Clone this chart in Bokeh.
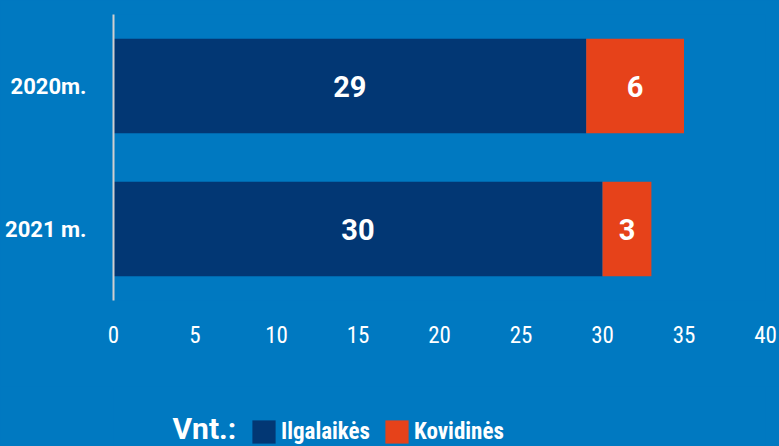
from bokeh.plotting import figure
from bokeh.layouts import column
from bokeh.models import (ColumnDataSource, FactorRange, Range1d, Legend, LegendItem,
                          LabelSet, Label, FixedTicker)
from bokeh.core.properties import value
from bokeh.embed import file_html
from bokeh.resources import INLINE

years = ["2020m.", "2021 m."]
ilgalaikes = [29, 30]
kovidines = [6, 3]
x_ticks = [0, 5, 10, 15, 20, 25, 30, 35, 40]
series_names = ["Ilgalaikės", "Kovidinės"]
legend_title = "Vnt.:"

BG = "#0079C1"
DARK = "#023774"
ORANGE = "#E6421A"
NARROW = "'Roboto Condensed', 'Liberation Sans Narrow', 'DejaVu Sans Condensed', sans-serif"
BGSTYLE = {"background-color": BG}
LEFT, RIGHT = 113, 14

factors = list(reversed(years))
src = ColumnDataSource(dict(
    year=years,
    a=ilgalaikes,
    b=kovidines,
    a_end=ilgalaikes,
    b_start=ilgalaikes,
    b_end=[i + k for i, k in zip(ilgalaikes, kovidines)],
    a_mid=[i / 2 for i in ilgalaikes],
    b_mid=[i + k / 2 for i, k in zip(ilgalaikes, kovidines)],
    zero=[0] * len(years),
))

p = figure(width=779, height=386, output_backend="svg", toolbar_location=None,
           y_range=FactorRange(factors=factors, range_padding=0),
           x_range=Range1d(0, 40),
           min_border_left=LEFT, min_border_right=RIGHT, min_border_top=14, min_border_bottom=86,
           styles=BGSTYLE)
p.background_fill_color = BG
p.border_fill_color = BG
p.outline_line_color = None
p.xgrid.visible = False
p.ygrid.visible = False

p.hbar(y="year", left="zero", right="a_end", height=0.66, source=src,
       fill_color=DARK, line_color=None)
p.hbar(y="year", left="b_start", right="b_end", height=0.66, source=src,
       fill_color=ORANGE, line_color=None)

for xcol, tcol in (("a_mid", "a"), ("b_mid", "b")):
    p.add_layout(LabelSet(x=xcol, y="year", text=tcol, source=src, text_align="center",
                          text_baseline="middle", text_color="white", text_font=value("Roboto"),
                          text_font_style="bold", text_font_size="29px"))

p.xaxis.ticker = FixedTicker(ticks=x_ticks)
p.xaxis.axis_line_color = None
p.xaxis.major_tick_line_color = None
p.xaxis.minor_tick_line_color = None
p.xaxis.major_label_text_color = "white"
p.xaxis.major_label_text_font = NARROW
p.xaxis.major_label_text_font_style = "normal"
p.xaxis.major_label_text_font_size = "23px"
p.xaxis.major_label_standoff = 19

p.yaxis.axis_line_color = "#D0D0D0"
p.yaxis.axis_line_width = 2
p.yaxis.major_tick_line_color = None
p.yaxis.minor_tick_line_color = None
p.yaxis.major_label_text_color = "white"
p.yaxis.major_label_text_font = "Roboto"
p.yaxis.major_label_text_font_style = "bold"
p.yaxis.major_label_text_font_size = "22px"
p.yaxis.major_label_standoff = 21

# legend strip (its swatch renderers sit outside the strip's ranges, so only the legend shows)
lf = figure(width=779, height=60, output_backend="svg", toolbar_location=None,
            x_range=Range1d(0, 1), y_range=Range1d(0, 1),
            min_border_left=LEFT, min_border_right=RIGHT, min_border_top=0, min_border_bottom=0,
            styles=BGSTYLE)
lf.background_fill_color = BG
lf.border_fill_color = BG
lf.outline_line_color = None
lf.axis.visible = False
lf.grid.visible = False
g1 = lf.quad(left="zero", right="a_end", bottom="a", top="a_end", source=src,
             fill_color=DARK, line_color=None)
g2 = lf.quad(left="b_start", right="b_end", bottom="b_end", top="b_end", source=src,
             fill_color=ORANGE, line_color=None)

legend = Legend(items=[LegendItem(label=series_names[0], renderers=[g1]),
                       LegendItem(label=series_names[1], renderers=[g2])],
                orientation="horizontal", location=(249 - LEFT, 0),
                label_text_color="white", label_text_font=NARROW,
                label_text_font_style="bold", label_text_font_size="23px",
                glyph_width=29, glyph_height=29, spacing=12, label_standoff=3,
                padding=0, margin=0,
                background_fill_alpha=0, border_line_color=None)
lf.add_layout(legend, "center")

lf.add_layout(Label(x=172 - LEFT, y=18, x_units="screen", y_units="screen", text=legend_title,
                    text_color="white", text_font="Roboto", text_font_style="bold",
                    text_font_size="30px", text_baseline="middle", text_align="left"))

layout = column(p, lf, spacing=0, styles=BGSTYLE)
open("out.html", "w").write(file_html(layout, INLINE))
